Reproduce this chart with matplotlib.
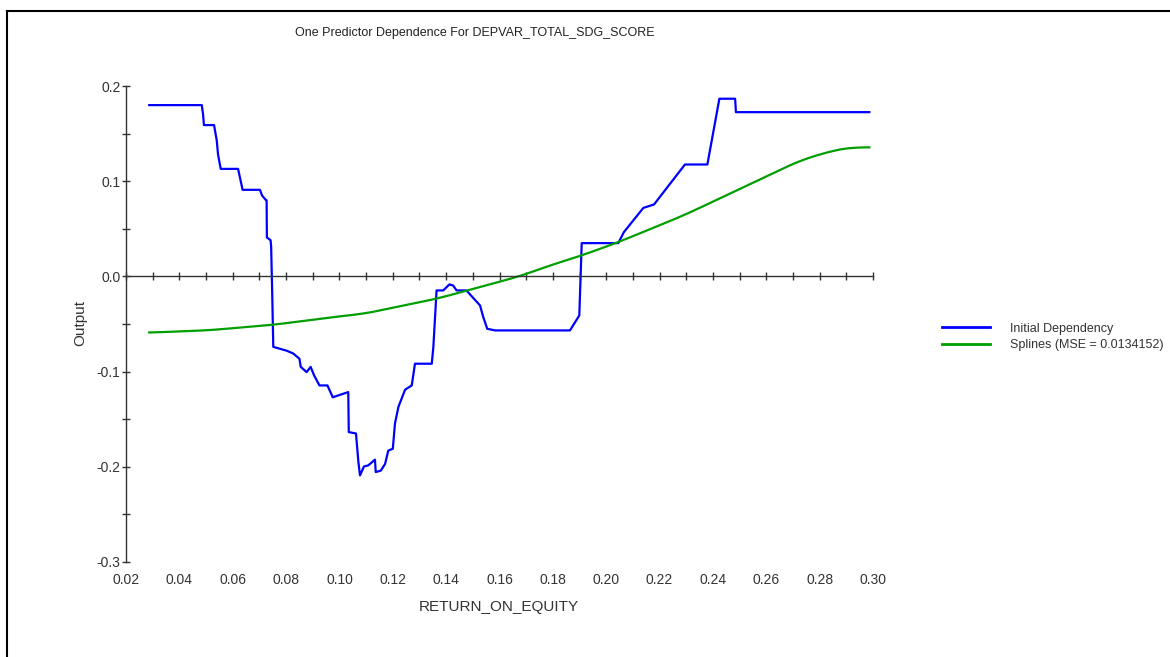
import numpy as np
import matplotlib.pyplot as plt
from matplotlib.lines import Line2D

plt.rcParams['font.family'] = ['Liberation Sans', 'DejaVu Sans']

# ========== data ==========
roe_initial = [0.0287, 0.0484, 0.0489, 0.0492, 0.0530, 0.0540, 0.0545, 0.0555,
               0.0620, 0.0627, 0.0637, 0.0702, 0.0710, 0.0725, 0.0727, 0.0728,
               0.0742, 0.0744, 0.0748, 0.0752, 0.0802, 0.0827, 0.0850, 0.0855,
               0.0877, 0.0892, 0.0905, 0.0925, 0.0955, 0.0975, 0.0990, 0.1033,
               0.1035, 0.1062, 0.1071, 0.1077, 0.1092, 0.1108, 0.1133, 0.1136,
               0.1155, 0.1171, 0.1183, 0.1200, 0.1208, 0.1221, 0.1246, 0.1271,
               0.1283, 0.1346, 0.1352, 0.1364, 0.1389, 0.1412, 0.1426, 0.1439,
               0.1476, 0.1527, 0.1539, 0.1554, 0.1583, 0.1864, 0.1899, 0.1908,
               0.2045, 0.2066, 0.2139, 0.2179, 0.2295, 0.2379, 0.2424, 0.2483,
               0.2486, 0.2986]
out_initial = [0.180, 0.180, 0.170, 0.159, 0.159, 0.143, 0.128, 0.113,
               0.113, 0.104, 0.091, 0.091, 0.085, 0.080, 0.080, 0.041,
               0.038, 0.031, -0.018, -0.074, -0.078, -0.081, -0.0865, -0.095,
               -0.1005, -0.095, -0.104, -0.1145, -0.1145, -0.127, -0.1255, -0.1215,
               -0.1635, -0.165, -0.195, -0.209, -0.1996, -0.1985, -0.1925, -0.2055,
               -0.204, -0.197, -0.183, -0.181, -0.1547, -0.137, -0.119, -0.1145,
               -0.0917, -0.0917, -0.074, -0.0147, -0.0147, -0.0084, -0.0095, -0.0147,
               -0.0147, -0.0305, -0.0427, -0.055, -0.0567, -0.0567, -0.041, 0.035,
               0.035, 0.0465, 0.072, 0.0756, 0.1176, 0.1176, 0.1867, 0.1867,
               0.1726, 0.1726]

roe_spline = [0.0287, 0.0502, 0.0752, 0.1040, 0.1077, 0.1365, 0.1489, 0.1677,
              0.1789, 0.1908, 0.2045, 0.2289, 0.2489, 0.2726, 0.2851, 0.2926, 0.2986]
out_spline = [-0.059, -0.0567, -0.0508, -0.0405, -0.040, -0.0234, -0.014, 0.0003,
              0.0116, 0.022, 0.036, 0.064, 0.0903, 0.1218, 0.1324, 0.1358, 0.1355]

x_ticks = np.arange(0.02, 0.3001, 0.01)
x_labels = np.arange(0.02, 0.3001, 0.02)
y_ticks = np.arange(-0.3, 0.2001, 0.05)
y_ticklabels = ['-0.3', '', '-0.2', '', '-0.1', '', '0.0', '', '0.1', '', '0.2']

BLUE = '#0000ff'
GREEN = '#009f00'
TXT = '#333333'

fig = plt.figure(figsize=(11.7, 6.57), dpi=100)
ax = fig.add_axes([0.1077, 0.1446, 0.7462 - 0.1077, 0.869 - 0.1446])

ax.plot(roe_initial, out_initial, color=BLUE, lw=1.6, solid_joinstyle='round')
# smooth the spline curve through the read points
xs = np.linspace(roe_spline[0], roe_spline[-1], 300)
ys = np.interp(xs, roe_spline, out_spline)
ys = np.convolve(np.pad(ys, 6, mode='edge'), np.ones(13) / 13, mode='valid')
ax.plot(xs, ys, color=GREEN, lw=1.6)

ax.set_xlim(0.02, 0.30)
ax.set_ylim(-0.3, 0.2)

for s in ['top', 'right']:
    ax.spines[s].set_visible(False)
ax.spines['bottom'].set_position(('data', 0))
for s in ['bottom', 'left']:
    ax.spines[s].set_color(TXT)
    ax.spines[s].set_linewidth(1.0)

ax.set_xticks(x_ticks)
ax.tick_params(axis='x', direction='inout', length=6, width=1.0, color=TXT,
               labelbottom=False)
ax.set_yticks(y_ticks)
ax.set_yticklabels(y_ticklabels)
ax.tick_params(axis='y', direction='inout', length=6, width=1.0, color=TXT,
               labelsize=10, labelcolor=TXT, pad=1)

# tick labels drawn at the bottom of the plot, not on the zero line
sec = ax.secondary_xaxis('bottom')
sec.set_xticks(x_labels)
sec.set_xticklabels([f'{v:.2f}' for v in x_labels])
sec.spines['bottom'].set_visible(False)
sec.tick_params(length=0, pad=8, labelsize=10, labelcolor=TXT)

fig.text(499 / 1170, 1 - 607 / 657, 'RETURN_ON_EQUITY', ha='center', va='center',
         fontsize=11, color=TXT)
fig.text(80 / 1170, 1 - 323 / 657, 'Output', ha='center', va='center',
         rotation=90, fontsize=11, color=TXT)
fig.text(475 / 1170, 1 - 33 / 657, 'One Predictor Dependence For DEPVAR_TOTAL_SDG_SCORE',
         ha='center', va='center', fontsize=9, color='#222222')

handles = [Line2D([], [], color=BLUE, lw=2), Line2D([], [], color=GREEN, lw=2)]
fig.legend(handles, ['Initial Dependency', 'Splines (MSE = 0.0134152)'],
           loc='center left', bbox_to_anchor=(931 / 1170, 1 - 337 / 657),
           frameon=False, fontsize=9, handlelength=3.8, labelspacing=0.35,
           handletextpad=1.6, labelcolor=TXT)

# outer frame lines (top and left)
fig.add_artist(Line2D([7 / 1170, 1], [1 - 11 / 657, 1 - 11 / 657], color='black', lw=1.5))
fig.add_artist(Line2D([7 / 1170, 7 / 1170], [0, 1 - 11 / 657], color='black', lw=1.5))

plt.savefig('out.png', dpi=100)
